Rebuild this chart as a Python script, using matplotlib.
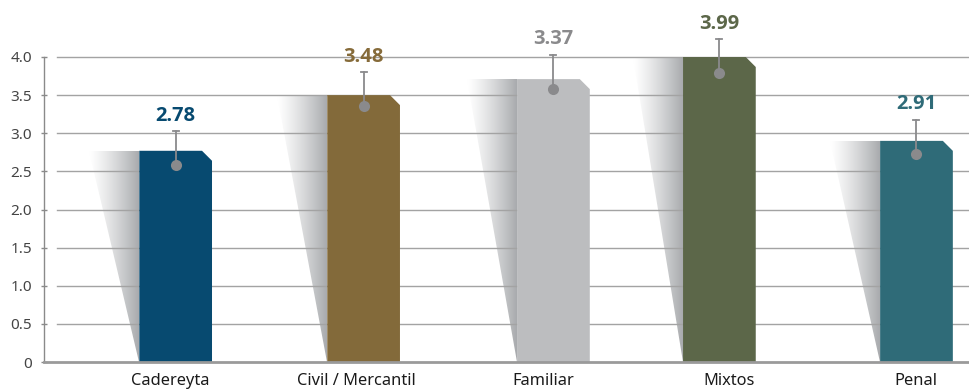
import numpy as np
import matplotlib

matplotlib.use("Agg")
import matplotlib.pyplot as plt
from matplotlib.patches import Polygon
from matplotlib.colors import LinearSegmentedColormap

"""
Data read off the reference chart
"""

categories = ["Cadereyta", "Civil / Mercantil", "Familiar", "Mixtos", "Penal"]
bar_values = [2.77, 3.50, 3.71, 4.00, 2.90]
label_values = [2.78, 3.48, 3.37, 3.99, 2.91]
dot_values = [2.58, 3.36, 3.58, 3.79, 2.73]
whisker_tops = [3.03, 3.80, 4.03, 4.23, 3.18]
yticks = [0, 0.5, 1.0, 1.5, 2.0, 2.5, 3.0, 3.5, 4.0]
ytick_labels = ["0", "0.5", "1.0", "1.5", "2.0", "2.5", "3.0", "3.5", "4.0"]

# layout / style
bar_colors = ["#074a70", "#836a3a", "#bcbdbf", "#5c6749", "#2f6b78"]
label_colors = ["#074a70", "#866b3a", "#8a8a8c", "#5c6749", "#2f6b78"]
bar_shift = [0.03, 0.038, 0.056, -0.054, 0.003]
bar_width = 0.39

plt.rcParams["font.family"] = ["Noto Sans", "DejaVu Sans"]

W, H, DPI = 970, 391, 100
fig = plt.figure(figsize=(W / DPI, H / DPI), dpi=DPI)
ax_left, ax_right, ax_bottom, ax_top = 44, 970, 362, 57
ax = fig.add_axes(
    [ax_left / W, (H - ax_bottom) / H, (ax_right - ax_left) / W, (ax_bottom - ax_top) / H]
)

x0 = -0.676
x1 = 4.29
ax.set_xlim(x0, x1)
ax.set_ylim(0, 4.0)

# pixels -> data units
px_x = (x1 - x0) / (ax_right - ax_left)
px_y = 4.0 / (ax_bottom - ax_top)

# gridlines (start a bit right of the spine)
for y in yticks[1:]:
    ax.plot([x0 + 13 * px_x, x1], [y, y], color="#a3a3a3", lw=1.0, zorder=2, clip_on=False)

shadow_cmap = LinearSegmentedColormap.from_list("shadow", ["#ffffff", "#a9abae"])
grad = np.linspace(0, 1, 256) ** 1.25
grad = grad[np.newaxis, :]

for i, val in enumerate(bar_values):
    xc = i + bar_shift[i]
    left = xc - bar_width / 2
    right = xc + bar_width / 2

    # fading shadow on the left side of the bar
    sw = 50 * px_x
    shadow = Polygon([(left - sw, val), (left, val), (left, 0)], closed=True,
                     facecolor="none", edgecolor="none")
    ax.add_patch(shadow)
    im = ax.imshow(grad, cmap=shadow_cmap, aspect="auto",
                   extent=[left - sw, left, 0, val], zorder=1, interpolation="bilinear")
    im.set_clip_path(shadow)

    # bar with clipped top-right corner
    cx = 10 * px_x
    cy = 10 * px_y
    bar = Polygon(
        [(left, 0), (left, val), (right - cx, val), (right, val - cy), (right, 0)],
        closed=True, facecolor=bar_colors[i], edgecolor="none", zorder=3,
    )
    ax.add_patch(bar)

    # whisker + dot
    ax.plot([xc, xc], [dot_values[i], whisker_tops[i]], color="#8a8a8c", lw=1.3,
            zorder=4, clip_on=False)
    ax.plot([xc - 3 * px_x, xc + 3 * px_x], [whisker_tops[i]] * 2, color="#8a8a8c",
            lw=1.3, zorder=4, clip_on=False)
    ax.plot(xc, dot_values[i], "o", ms=8, color="#8a8a8c", mec="none", zorder=5,
            clip_on=False)

    ax.annotate(f"{label_values[i]:.2f}", (xc, whisker_tops[i]), xytext=(0, 7.5),
                textcoords="offset points", ha="center", va="baseline",
                fontsize=14.5, fontweight="bold", family=["Open Sans", "DejaVu Sans"],
                color=label_colors[i], annotation_clip=False)

ax.set_xticks(range(len(categories)))
ax.set_xticklabels(categories, fontsize=11.8, color="#1a1a1a")
ax.tick_params(axis="x", length=0, pad=8)

ax.set_yticks(yticks)
ax.set_yticklabels(ytick_labels, fontsize=11, color="#444444")
ax.tick_params(axis="y", direction="inout", length=5, width=1, color="#8a8a8a", pad=6)

for s in ["top", "right"]:
    ax.spines[s].set_visible(False)
ax.spines["left"].set_color("#8a8a8a")
ax.spines["left"].set_linewidth(1)
ax.spines["bottom"].set_color("#9a9a9a")
ax.spines["bottom"].set_linewidth(2)
ax.spines["bottom"].set_zorder(6)

fig.savefig("out.png", dpi=DPI)
